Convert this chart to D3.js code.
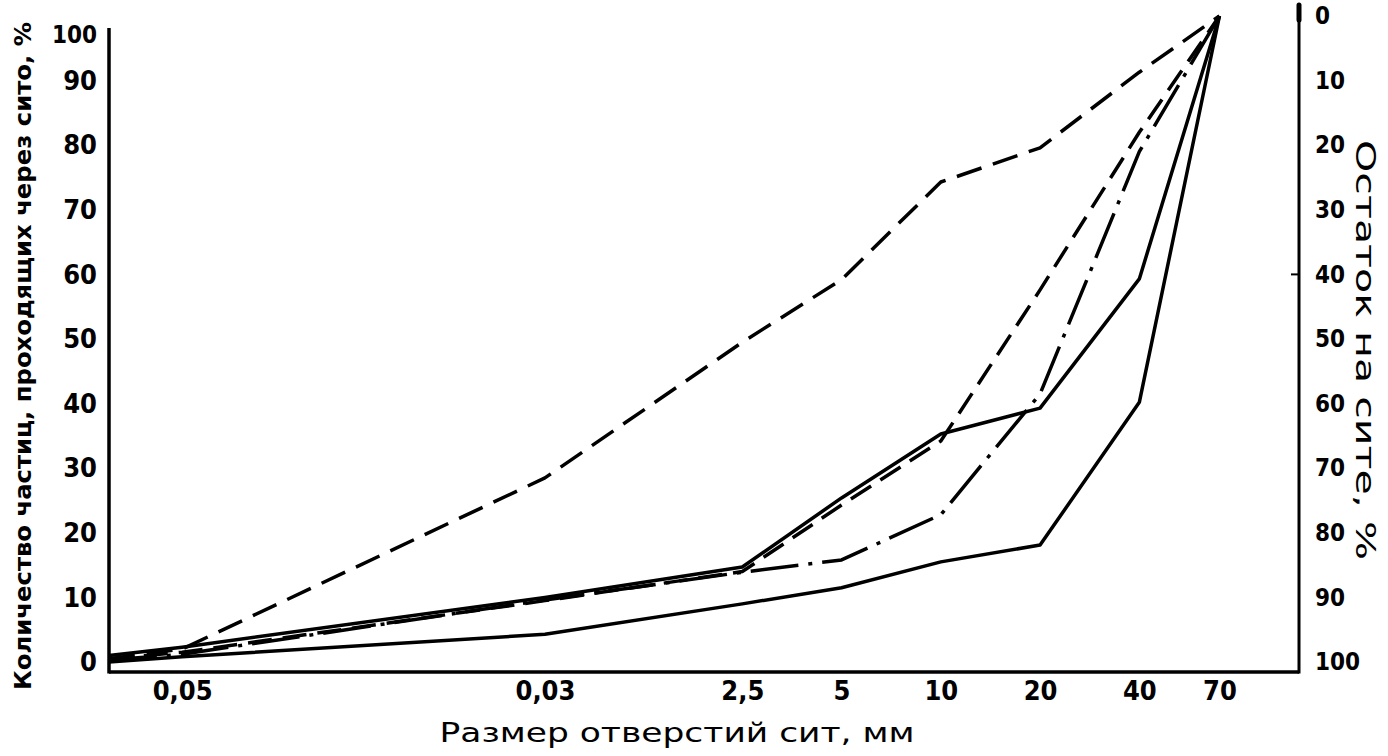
<!DOCTYPE html>
<html><head><meta charset="utf-8">
<script src="https://cdn.jsdelivr.net/npm/d3@7"></script>
<style>
html,body{margin:0;padding:0;background:#fff;}
svg{display:block;}
.tick text{font-stretch:condensed;}
</style></head>
<body>
<svg id="chart" width="1388" height="756"></svg>
<script>
// ---- data ----
const sieveSizes = [0.03, 0.05, 0.63, 2.5, 5, 10, 20, 40, 70];
const xTickValues = [0.05, 0.63, 2.5, 5, 10, 20, 40, 70];
const xTickLabels = ["0,05", "0,03", "2,5", "5", "10", "20", "40", "70"];
const yTicksLeft = [0, 10, 20, 30, 40, 50, 60, 70, 80, 90, 100];
const yTicksRight = [0, 10, 20, 30, 40, 50, 60, 70, 80, 90, 100];
const seriesSolidLow  = [0, 0.8, 4.3, 9.0, 11.5, 15.5, 18.1, 40.2, 100];
const seriesSolidHigh = [1.0, 2.3, 10.0, 14.7, 25.4, 35.3, 39.3, 59.3, 100];
const seriesDash      = [0.5, 1.5, 9.5, 14.0, 24.3, 34.2, 57.6, 82.0, 100];
const seriesDashDot   = [0.3, 1.2, 9.6, 13.9, 15.8, 22.8, 41.5, 79.0, 100];
const seriesTopDash   = [0.5, 2.0, 28.5, 49.5, 59.2, 74.3, 79.6, 91.3, 100];
const xTitle = "Размер отверстий сит, мм";
const yTitleLeft = "Количество частиц, проходящих через сито, %";
const yTitleRight = "Остаток на сите, %";

// ---- layout ----
const svg = d3.select("#chart");
const left = 109, right = 1299, bottom = 672;
const x = d3.scaleLog().domain([0.03, 122]).range([left, right]);
const y = d3.scaleLinear().domain([0, 100]).range([662, 16]);
const yR = d3.scaleLinear().domain([0, 100]).range([16, 662]);

const tickFont = '"DejaVu Sans Condensed","DejaVu Sans",sans-serif';

// axis lines
svg.append("line").attr("x1", left).attr("x2", left).attr("y1", 28).attr("y2", bottom + 1.5)
  .attr("stroke", "#000").attr("stroke-width", 3.5);
svg.append("line").attr("x1", left).attr("x2", right).attr("y1", bottom).attr("y2", bottom)
  .attr("stroke", "#000").attr("stroke-width", 3.5);
svg.append("line").attr("x1", right).attr("x2", right).attr("y1", 6).attr("y2", bottom + 1.5)
  .attr("stroke", "#000").attr("stroke-width", 3);
svg.append("line").attr("x1", right).attr("x2", right).attr("y1", 5).attr("y2", 20)
  .attr("stroke", "#000").attr("stroke-width", 5).attr("stroke-linecap", "round");
svg.append("line").attr("x1", right - 8).attr("x2", right).attr("y1", yR(40)).attr("y2", yR(40))
  .attr("stroke", "#000").attr("stroke-width", 2);

// axes (labels only)
const gx = svg.append("g").attr("transform", `translate(0,${bottom})`)
  .call(d3.axisBottom(x).tickValues(xTickValues).tickFormat((d, i) => xTickLabels[i]).tickSize(0).tickPadding(9));
const gl = svg.append("g").attr("transform", `translate(${left},0)`)
  .call(d3.axisLeft(y).tickValues(yTicksLeft).tickFormat(d => String(d)).tickSize(0).tickPadding(12));
const gr = svg.append("g").attr("transform", `translate(${right},0)`)
  .call(d3.axisRight(yR).tickValues(yTicksRight).tickFormat(d => String(d)).tickSize(0).tickPadding(16));
[gx, gl, gr].forEach(g => {
  g.select(".domain").remove();
  g.selectAll("text").attr("font-family", tickFont).attr("font-weight", "bold")
    .attr("font-size", 27).attr("fill", "#000");
});
gr.selectAll("text").attr("font-size", 24);
// the top left label sits a little lower in the original (crowded corner)
gl.selectAll(".tick").filter(d => d === 100).select("text").attr("dy", "1.1em").attr("font-size", 24);

// curves
const line = d3.line().x((d, i) => x(sieveSizes[i])).y(d => y(d));
const curves = [
  {data: seriesSolidLow,  dash: null},
  {data: seriesSolidHigh, dash: null},
  {data: seriesDash,      dash: "24,11"},
  {data: seriesDashDot,   dash: "48,10,4,10"},
  {data: seriesTopDash,   dash: "26,12"}
];
svg.append("g").selectAll("path").data(curves).join("path")
  .attr("d", c => line(c.data))
  .attr("fill", "none").attr("stroke", "#000").attr("stroke-width", 3.5)
  .attr("stroke-linejoin", "round")
  .attr("stroke-dasharray", c => c.dash);

// titles
svg.append("text").attr("x", 677).attr("y", 742).attr("text-anchor", "middle")
  .attr("font-family", '"DejaVu Sans",sans-serif').attr("font-size", 27)
  .attr("textLength", 475).attr("lengthAdjust", "spacingAndGlyphs")
  .text(xTitle);
svg.append("text").attr("transform", "translate(31,356) rotate(-90)").attr("text-anchor", "middle")
  .attr("font-family", '"DejaVu Sans",sans-serif').attr("font-weight", "bold").attr("font-size", 23)
  .attr("textLength", 668).attr("lengthAdjust", "spacingAndGlyphs")
  .text(yTitleLeft);
svg.append("text").attr("transform", "translate(1356,350) rotate(90)").attr("text-anchor", "middle")
  .attr("font-family", '"DejaVu Sans",sans-serif').attr("font-size", 26)
  .attr("textLength", 420).attr("lengthAdjust", "spacingAndGlyphs")
  .text(yTitleRight);
</script>
</body></html>
